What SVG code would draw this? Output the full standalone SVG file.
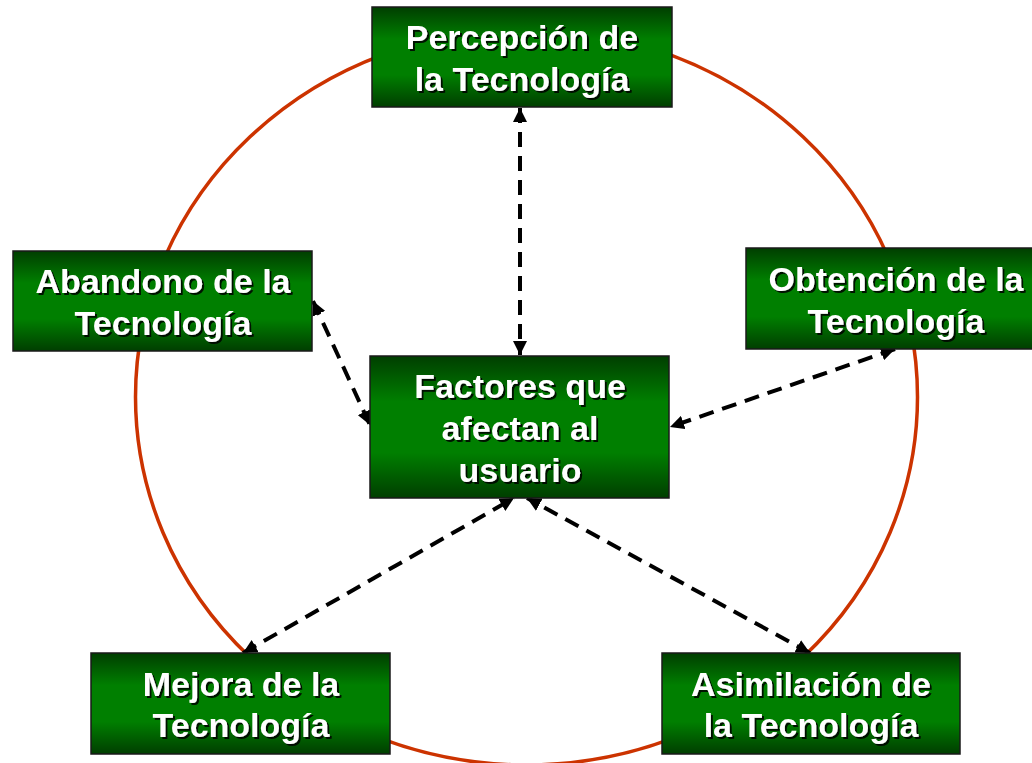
<svg xmlns="http://www.w3.org/2000/svg" width="1032" height="763" viewBox="0 0 1032 763">
  <defs>
    <linearGradient id="boxGrad" x1="0" y1="0" x2="0" y2="1">
      <stop offset="0" stop-color="#003e00"/>
      <stop offset="0.32" stop-color="#007f00"/>
      <stop offset="0.68" stop-color="#007f00"/>
      <stop offset="1" stop-color="#003e00"/>
    </linearGradient>
    <filter id="txtShadow" x="-10%" y="-20%" width="120%" height="150%">
      <feDropShadow dx="2" dy="2" stdDeviation="0.6" flood-color="#000000" flood-opacity="0.85"/>
    </filter>
    <marker id="arrow" viewBox="0 0 14 14" refX="14" refY="7" markerWidth="14" markerHeight="14" markerUnits="userSpaceOnUse" orient="auto-start-reverse">
      <path d="M0,0 L14,7 L0,14 Z" fill="#000000"/>
    </marker>
    <style>
      .box { fill: url(#boxGrad); stroke: #1a1a1a; stroke-width: 1.5; }
      .lbl { font-family: "Liberation Sans", Arial, sans-serif; font-weight: bold; font-size: 34px; fill: #ffffff; text-anchor: middle; filter: url(#txtShadow); }
      .conn { fill: none; stroke: #000000; stroke-width: 4; stroke-dasharray: 15 9; marker-start: url(#arrow); marker-end: url(#arrow); }
      .ring { fill: none; stroke: #cc3300; stroke-width: 3.5; }
    </style>
  </defs>
  <rect width="1032" height="763" fill="#ffffff"/>
  <ellipse class="ring" cx="526.5" cy="397" rx="391" ry="368"/>
  <g id="connectors">
    <line class="conn" x1="520" y1="108" x2="520" y2="355"/>
    <line class="conn" x1="313" y1="301" x2="370" y2="425"/>
    <line class="conn" x1="895" y1="349" x2="670" y2="427"/>
    <line class="conn" x1="243" y1="653" x2="514" y2="498"/>
    <line class="conn" x1="810" y1="653" x2="527" y2="498"/>
  </g>
  <g id="percepcion">
    <rect class="box" x="372" y="7" width="300" height="100"/>
    <text class="lbl" x="522" y="49">Percepción de</text>
    <text class="lbl" x="522" y="91">la Tecnología</text>
  </g>
  <g id="abandono">
    <rect class="box" x="13" y="251" width="299" height="100"/>
    <text class="lbl" x="163" y="293">Abandono de la</text>
    <text class="lbl" x="163" y="335">Tecnología</text>
  </g>
  <g id="obtencion">
    <rect class="box" x="746" y="248" width="300" height="101"/>
    <text class="lbl" x="896" y="291">Obtención de la</text>
    <text class="lbl" x="896" y="333">Tecnología</text>
  </g>
  <g id="factores">
    <rect class="box" x="370" y="356" width="299" height="142"/>
    <text class="lbl" x="520" y="398">Factores que</text>
    <text class="lbl" x="520" y="440">afectan al</text>
    <text class="lbl" x="520" y="482">usuario</text>
  </g>
  <g id="mejora">
    <rect class="box" x="91" y="653" width="299" height="101"/>
    <text class="lbl" x="241" y="696">Mejora de la</text>
    <text class="lbl" x="241" y="737">Tecnología</text>
  </g>
  <g id="asimilacion">
    <rect class="box" x="662" y="653" width="298" height="101"/>
    <text class="lbl" x="811" y="696">Asimilación de</text>
    <text class="lbl" x="811" y="737">la Tecnología</text>
  </g>
</svg>
